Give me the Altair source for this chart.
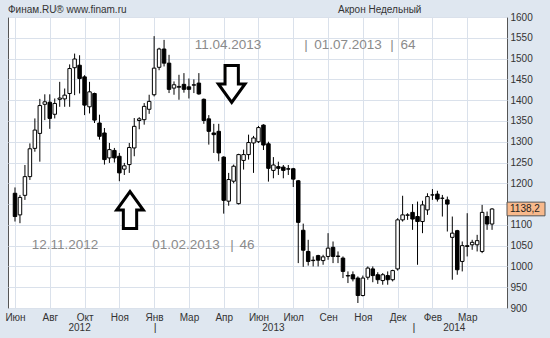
import json
import altair as alt
import pandas as pd

# ---- weekly OHLC (Акрон, weekly candles) ----
opens = [1176, 1124, 1171, 1216, 1284, 1320, 1390, 1395, 1366, 1402,
         1403, 1416, 1478, 1484, 1456, 1384, 1416, 1345, 1321, 1261,
         1279, 1265, 1234, 1245, 1285, 1351, 1353, 1378, 1413, 1479,
         1523, 1489, 1429, 1431, 1438, 1432, 1436, 1441, 1402, 1355,
         1321, 1325, 1263, 1157, 1205, 1151, 1255, 1269, 1297, 1300,
         1340, 1295, 1231, 1240, 1239, 1235, 1235, 1206, 1087, 1036,
         1014, 1026, 1014, 1024, 1046, 1025, 1020, 978, 980, 972,
         930, 974, 994, 980, 966, 978, 968, 994, 1112, 1123,
         1130, 1120, 1108, 1136, 1172, 1174, 1164, 1160, 1070, 1086,
         1012, 1048, 1052, 1052, 1036, 1120, 1102]
highs = [1190, 1172, 1244, 1296, 1356, 1403, 1414, 1414, 1404, 1444,
         1428, 1486, 1512, 1508, 1460, 1444, 1418, 1365, 1333, 1297,
         1285, 1273, 1249, 1297, 1357, 1359, 1393, 1413, 1554, 1526,
         1545, 1509, 1445, 1461, 1465, 1452, 1450, 1465, 1404, 1364,
         1343, 1343, 1265, 1225, 1245, 1271, 1281, 1317, 1314, 1338,
         1342, 1300, 1263, 1252, 1244, 1244, 1237, 1208, 1103, 1064,
         1024, 1028, 1028, 1080, 1060, 1036, 1024, 988, 988, 976,
         978, 1000, 1000, 986, 984, 988, 992, 1116, 1170, 1128,
         1150, 1156, 1158, 1176, 1186, 1182, 1172, 1168, 1120, 1088,
         1060, 1128, 1064, 1076, 1148, 1132, 1140]
lows = [1108, 1104, 1160, 1208, 1276, 1252, 1352, 1331, 1356, 1384,
        1384, 1384, 1412, 1416, 1364, 1368, 1345, 1305, 1245, 1249,
        1250, 1205, 1220, 1225, 1265, 1330, 1341, 1367, 1409, 1472,
        1481, 1417, 1413, 1401, 1418, 1404, 1417, 1413, 1343, 1293,
        1273, 1253, 1127, 1146, 1200, 1149, 1233, 1257, 1225, 1297,
        1280, 1204, 1212, 1220, 1212, 1220, 1191, 1008, 999, 1002,
        1000, 1000, 1004, 1016, 1008, 1008, 972, 960, 964, 912,
        928, 968, 962, 958, 956, 956, 964, 990, 1108, 1112,
        1088, 1004, 1080, 1124, 1160, 1156, 1120, 1084, 968, 980,
        988, 1024, 1040, 1036, 1032, 1088, 1088]
closes = [1120, 1166, 1216, 1283, 1328, 1387, 1396, 1356, 1392, 1405,
          1412, 1476, 1499, 1452, 1388, 1420, 1352, 1313, 1257, 1281,
          1261, 1225, 1242, 1286, 1337, 1355, 1385, 1397, 1477, 1523,
          1489, 1426, 1437, 1433, 1426, 1426, 1437, 1415, 1351, 1325,
          1317, 1273, 1159, 1209, 1241, 1269, 1269, 1298, 1309, 1334,
          1292, 1236, 1244, 1236, 1231, 1234, 1210, 1106, 1039, 1012,
          1015, 1015, 1023, 1044, 1024, 1024, 988, 977, 970, 930,
          972, 996, 978, 968, 980, 968, 990, 1112, 1124, 1124,
          1114, 1108, 1148, 1168, 1172, 1162, 1164, 1150, 1080, 992,
          1050, 1050, 1058, 1062, 1130, 1102, 1138.2]

month_labels = ["Июн", "Авг", "Окт", "Ноя", "Янв", "Мар", "Апр",
                "Июн", "Июл", "Сен", "Ноя", "Дек", "Фев", "Мар"]
label_step = 7
year_labels = ["2012", "2013", "2014"]
year_index = [13.0, 52.0, 88.4]
year_separator_index = [28.2, 80.3]
y_ticks = list(range(900, 1601, 50))
hidden_y_label = 1150  # covered by the last-price tag in the original

header_left = "Финам.RU®  www.finam.ru"
header_right = "Акрон Недельный"
annotations = [  # (text, px, py) in plot pixels
    ("11.04.2013", 220, 28), ("|", 298, 28), ("01.07.2013", 340, 28),
    ("|", 384, 28), ("64", 400, 28),
    ("12.11.2012", 57, 228), ("01.02.2013", 178, 228), ("|", 224, 228),
    ("46", 239, 228),
]

FONT = "Liberation Sans"

df = pd.DataFrame({"i": list(range(len(opens))), "open": opens, "high": highs,
                   "low": lows, "close": closes})
df["blo"] = df[["open", "close"]].min(axis=1)
df["bhi"] = df[["open", "close"]].max(axis=1)

xscale = alt.Scale(domain=[-0.4, 98.0], nice=False, zero=False)
yscale = alt.Scale(domain=[900, 1600], nice=False, zero=False)

xaxis = alt.Axis(values=[k * label_step for k in range(len(month_labels))],
                 labelExpr=json.dumps(month_labels, ensure_ascii=False)
                 + f"[round(datum.value/{label_step})]",
                 grid=True, ticks=False, domain=False, title=None,
                 labelPadding=4, labelFontSize=10, labelColor="#333",
                 labelFont=FONT, gridColor="#dae1eb", labelFlush=False,
                 labelOverlap=False)
yaxis = alt.Axis(orient="right", values=y_ticks, grid=True, ticks=False,
                 domain=False, title=None, labelPadding=3, labelFontSize=10,
                 labelColor="#333", labelFont=FONT, gridColor="#dae1eb",
                 labelFlush=False, labelOverlap=False,
                 labelExpr=f"datum.value == {hidden_y_label} ? '' : format(datum.value, 'd')")


def X(field):
    return alt.X(field, scale=xscale, axis=xaxis)


def Y(field):
    return alt.Y(field, scale=yscale, axis=yaxis)


base = alt.Chart(df)

wicks = base.mark_rule(color="black", strokeWidth=1).encode(
    x=X("i:Q"), y=Y("low:Q"), y2="high:Q",
)
bodies = base.mark_bar(size=3.5, stroke="black", strokeWidth=1).encode(
    x=X("i:Q"), y=Y("blo:Q"), y2="bhi:Q",
    fill=alt.condition("datum.close >= datum.open", alt.value("white"),
                       alt.value("black")),
)

one = pd.DataFrame({"k": [0]})


def label(text, px, py, size=10, color="#333", align="left", font=FONT):
    return alt.Chart(one).mark_text(align=align, baseline="middle",
                                    fontSize=size, color=color, font=font).encode(
        x=alt.value(px), y=alt.value(py), text=alt.value(text))


layers = [wicks, bodies]

# header
layers.append(label(header_left, 0, -7, size=10))
layers.append(label(header_right, 330, -7, size=10))

# gray annotation texts
for t, px, py in annotations:
    layers.append(label(t, px, py, size=13.5, color="#8a8a8a", align="center"))

# year row
years_df = pd.DataFrame({"i": year_index, "t": year_labels})
layers.append(alt.Chart(years_df).mark_text(fontSize=10, color="#333", font=FONT,
                                            baseline="middle").encode(
    x=X("i:Q"), y=alt.value(311), text="t:N"))
sep_df = pd.DataFrame({"i": year_separator_index, "t": ["|"] * len(year_separator_index)})
layers.append(alt.Chart(sep_df).mark_text(fontSize=11, color="#333", font=FONT,
                                          baseline="middle").encode(
    x=X("i:Q"), y=alt.value(311), text="t:N"))

# arrows
down_path = "M -0.36 -1 L 0.36 -1 L 0.36 0 L 0.72 0 L 0 1 L -0.72 0 L -0.36 0 Z"
up_path = "M -0.36 1 L 0.36 1 L 0.36 0 L 0.72 0 L 0 -1 L -0.72 0 L -0.36 0 Z"
layers.append(alt.Chart(one).mark_point(shape=down_path, size=1369, filled=True,
                                        fill="white", stroke="black",
                                        strokeWidth=3, opacity=1,
                                        strokeJoin="miter").encode(
    x=alt.value(223.7), y=alt.value(67)))
layers.append(alt.Chart(one).mark_point(shape=up_path, size=1369, filled=True,
                                        fill="white", stroke="black",
                                        strokeWidth=3, opacity=1,
                                        strokeJoin="miter").encode(
    x=alt.value(122), y=alt.value(193)))

# last price tag
last = closes[-1]
tag_df = pd.DataFrame({"close": [last], "t": [f"{last:.1f}".replace(".", ",")]})
tag_path = "M -1 -0.36 L 1 -0.36 L 1 0.36 L -1 0.36 Z"
layers.append(alt.Chart(tag_df).mark_point(shape=tag_path, size=1444, filled=True,
                                           fill="#f8b98c", stroke="#555",
                                           strokeWidth=1, opacity=1).encode(
    x=alt.value(518), y=Y("close:Q")))
layers.append(alt.Chart(tag_df).mark_text(align="left", baseline="middle",
                                          fontSize=10, color="#222", font=FONT).encode(
    x=alt.value(502), y=Y("close:Q"), text="t:N"))

chart = alt.layer(*layers).properties(
    width=499, height=291,
    autosize=alt.AutoSizeParams(type="none"),
    padding={"left": 8, "top": 17, "right": 43, "bottom": 30},
    background="#dfe7f0",
).configure_view(fill="white", stroke="#555", strokeWidth=1)

chart.save("out.html", embed_options={"renderer": "svg", "actions": False})
